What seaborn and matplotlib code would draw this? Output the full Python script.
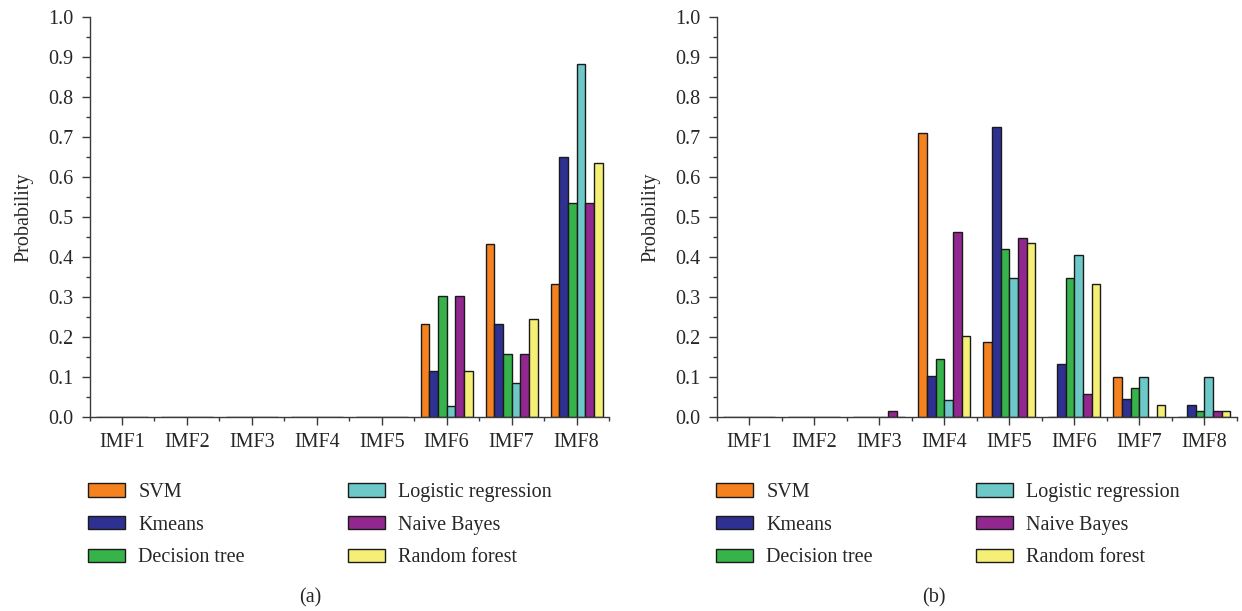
import numpy as np
import pandas as pd
import matplotlib
matplotlib.use("Agg")
import matplotlib.pyplot as plt
from matplotlib.ticker import MultipleLocator, FixedLocator, FormatStrFormatter
import seaborn as sns

imfs = ["IMF1", "IMF2", "IMF3", "IMF4", "IMF5", "IMF6", "IMF7", "IMF8"]
methods = ["SVM", "Kmeans", "Decision tree", "Logistic regression", "Naive Bayes", "Random forest"]
colors = ["#F5821F", "#2E3192", "#36B44A", "#6CC9C8", "#92278F", "#F6EF75"]

# Panel (a): probability per IMF for each classifier
svm_a      = [0, 0, 0, 0, 0, 0.232, 0.433, 0.333]
kmeans_a   = [0, 0, 0, 0, 0, 0.116, 0.232, 0.651]
dtree_a    = [0, 0, 0, 0, 0, 0.303, 0.158, 0.535]
logreg_a   = [0, 0, 0, 0, 0, 0.028, 0.086, 0.882]
bayes_a    = [0, 0, 0, 0, 0, 0.303, 0.158, 0.535]
forest_a   = [0, 0, 0, 0, 0, 0.116, 0.245, 0.635]

# Panel (b)
svm_b      = [0, 0, 0, 0.709, 0.188, 0, 0.101, 0]
kmeans_b   = [0, 0, 0, 0.102, 0.724, 0.132, 0.044, 0.029]
dtree_b    = [0, 0, 0, 0.145, 0.420, 0.347, 0.072, 0.015]
logreg_b   = [0, 0, 0, 0.043, 0.347, 0.406, 0.101, 0.101]
bayes_b    = [0, 0, 0.014, 0.463, 0.448, 0.058, 0, 0.015]
forest_b   = [0, 0, 0, 0.203, 0.435, 0.333, 0.029, 0.015]


def long_frame(series):
    rows = []
    for m, vals in zip(methods, series):
        for imf, v in zip(imfs, vals):
            rows.append({"IMF": imf, "Method": m, "Probability": v})
    return pd.DataFrame(rows)


df_a = long_frame([svm_a, kmeans_a, dtree_a, logreg_a, bayes_a, forest_a])
df_b = long_frame([svm_b, kmeans_b, dtree_b, logreg_b, bayes_b, forest_b])

sns.set_style("ticks")
plt.rcParams["font.family"] = ["Liberation Serif", "DejaVu Serif"]
FS = 14.5
plt.rcParams["font.size"] = FS

fig = plt.figure(figsize=(12.42, 6.11), dpi=100)
W, H = 1242, 611
ax_a = fig.add_axes([89.5 / W, (H - 417) / H, (609 - 89.5) / W, 400 / H])
ax_b = fig.add_axes([716.7 / W, (H - 417) / H, (1237 - 716.7) / W, 400 / H])

spine_col = "#3a3a3a"
for ax, df, cap, cx, lx in [(ax_a, df_a, "(a)", 310.5, 88), (ax_b, df_b, "(b)", 934, 716)]:
    sns.barplot(data=df, x="IMF", y="Probability", hue="Method", hue_order=methods,
                order=imfs, palette=colors, edgecolor="#1a1a1a", linewidth=1.0,
                width=0.8, saturation=1, ax=ax, legend=True)
    ax.set_xlim(-0.5, 7.5)
    ax.set_ylim(0, 1.0)
    ax.yaxis.set_major_locator(MultipleLocator(0.1))
    ax.yaxis.set_minor_locator(MultipleLocator(0.05))
    ax.yaxis.set_major_formatter(FormatStrFormatter("%.1f"))
    ax.xaxis.set_minor_locator(FixedLocator(np.arange(-0.5, 8, 1.0)))
    ax.tick_params(which="major", direction="out", length=5.5, width=1.0, color=spine_col,
                   labelsize=FS, pad=6)
    ax.tick_params(which="minor", direction="out", length=3, width=1.0, color=spine_col)
    ax.tick_params(axis="x", which="major", pad=6)
    for s in ["top", "right"]:
        ax.spines[s].set_visible(False)
    for s in ["left", "bottom"]:
        ax.spines[s].set_color(spine_col)
        ax.spines[s].set_linewidth(1.0)
    ax.set_xlabel("")
    ax.set_ylabel("Probability", fontsize=FS, labelpad=11)

    handles, labels = ax.get_legend_handles_labels()
    ax.get_legend().remove()
    fig.legend(handles, labels, loc="upper left", bbox_to_anchor=(lx / W, 1 - 483 / H),
               ncol=2, frameon=False, borderpad=0, borderaxespad=0,
               handlelength=1.85, handleheight=0.65, handletextpad=0.65,
               labelspacing=0.68, columnspacing=5.1, fontsize=FS)
    fig.text(cx / W, 1 - 598 / H, cap, ha="center", va="center", fontsize=FS)

fig.savefig("out.png", dpi=100)
